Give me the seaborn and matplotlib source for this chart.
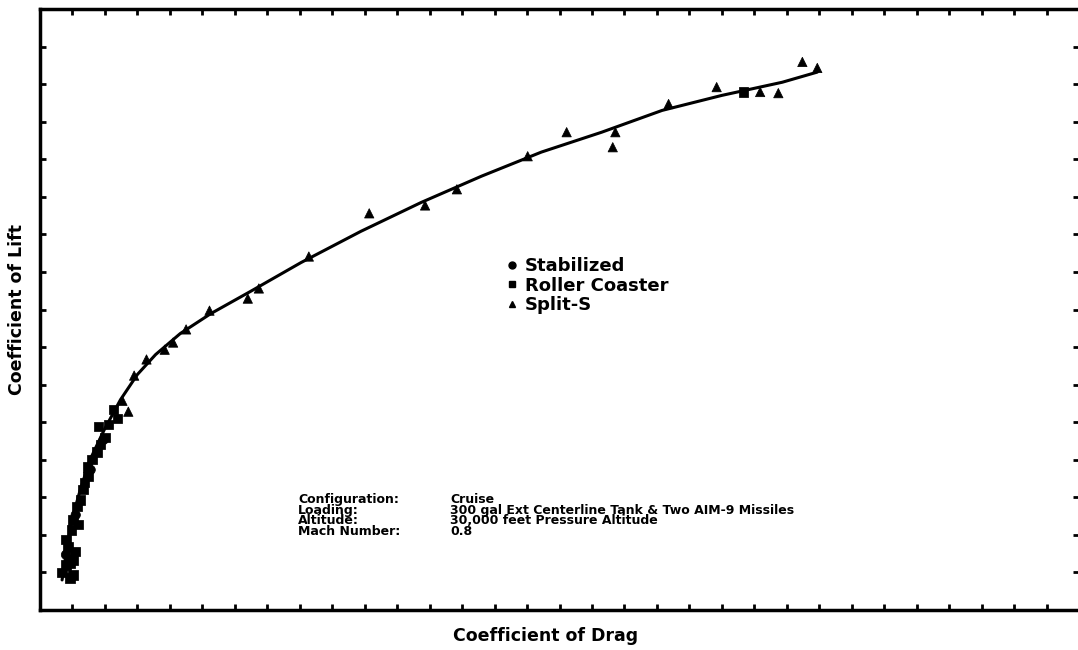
import matplotlib
matplotlib.use("Agg")
import matplotlib.pyplot as plt
from matplotlib.lines import Line2D
import seaborn as sns
import pandas as pd
import numpy as np

sns.set_style("white")
plt.rcParams['font.family'] = ['DejaVu Sans']
plt.rcParams['text.color'] = 'black'
plt.rcParams['axes.labelcolor'] = 'black'

# ---- data (arbitrary units) ----
split_cd = [0.1174, 0.1197, 0.1042, 0.0968, 0.1109, 0.1137, 0.0811, 0.0886, 0.0882,
            0.0751, 0.0642, 0.0593, 0.0507, 0.0414, 0.0337, 0.0320, 0.0261, 0.0225,
            0.0205, 0.0192, 0.0164, 0.0145, 0.0127, 0.0136]
split_cl = [1.459, 1.443, 1.392, 1.347, 1.379, 1.376, 1.272, 1.272, 1.232,
            1.208, 1.120, 1.077, 1.056, 0.941, 0.856, 0.829, 0.797, 0.747,
            0.712, 0.693, 0.667, 0.624, 0.557, 0.528]

roller_cd = [0.1083, 0.0113, 0.0119, 0.0090, 0.0100, 0.0088, 0.0073, 0.0074, 0.0066,
             0.0057, 0.0051, 0.0059, 0.0043, 0.0054, 0.0046, 0.0034, 0.0051, 0.0051,
             0.0040, 0.0048, 0.0062, 0.0069, 0.0080, 0.0093, 0.0105, 0.0040, 0.0046]
roller_cl = [1.379, 0.533, 0.509, 0.488, 0.459, 0.421, 0.381, 0.355, 0.320,
             0.275, 0.240, 0.227, 0.168, 0.155, 0.125, 0.099, 0.093, 0.133,
             0.187, 0.213, 0.293, 0.339, 0.400, 0.440, 0.493, 0.120, 0.085]

stab_cd = [0.0040, 0.0055, 0.0078, 0.0098]
stab_cl = [0.147, 0.253, 0.373, 0.453]

fit_cd = [0.0034, 0.0040, 0.0049, 0.0062, 0.0077, 0.0099, 0.0124, 0.0150, 0.0178,
          0.0216, 0.0263, 0.0324, 0.0402, 0.0494, 0.0587, 0.0680, 0.0772, 0.0865,
          0.0958, 0.1050, 0.1143, 0.1197]
fit_cl = [0.080, 0.147, 0.240, 0.320, 0.400, 0.480, 0.560, 0.627, 0.680,
          0.736, 0.789, 0.848, 0.925, 1.008, 1.085, 1.155, 1.219, 1.272,
          1.330, 1.370, 1.405, 1.432]

series_names = ["Stabilized", "Roller Coaster", "Split-S"]
info_keys = ["Configuration:", "Loading:", "Altitude:", "Mach Number:"]
info_vals = ["Cruise", "300 gal Ext Centerline Tank & Two AIM-9 Missiles",
             "30,000 feet Pressure Altitude", "0.8"]

df = pd.DataFrame({
    "cd": stab_cd + roller_cd + split_cd,
    "cl": stab_cl + roller_cl + split_cl,
    "maneuver": [series_names[0]] * len(stab_cd) + [series_names[1]] * len(roller_cd)
                + [series_names[2]] * len(split_cd),
})
fit = pd.DataFrame({"cd": fit_cd, "cl": fit_cl})

W, H = 1078, 650
fig = plt.figure(figsize=(W / 100, H / 100), dpi=100)
ax = fig.add_axes([40 / W, 40 / H, 1039 / W, 601 / H])

markers = {series_names[0]: "o", series_names[1]: "s", series_names[2]: "^"}
sns.lineplot(data=fit, x="cd", y="cl", ax=ax, color="black", lw=2.2, sort=False,
             estimator=None)
sns.scatterplot(data=df, x="cd", y="cl", style="maneuver", markers=markers,
                color="black", edgecolor="black", s=45, ax=ax, legend=False, zorder=3)

ax.set_xlim(0, 0.16)
ax.set_ylim(0, 1.6)
ax.set_xticks(np.arange(0, 0.1601, 0.005))
ax.set_yticks(np.arange(0, 1.601, 0.1))
ax.set_xticklabels([])
ax.set_yticklabels([])
ax.tick_params(direction="in", length=4, width=2, top=True, right=True,
               bottom=True, left=True, color="black")
for sp in ax.spines.values():
    sp.set_linewidth(2.5)
    sp.set_color("black")
ax.spines["right"].set_visible(False)

ax.set_xlabel("Coefficient of Drag", fontsize=12.5, fontweight="bold")
ax.set_ylabel("Coefficient of Lift", fontsize=12.5, fontweight="bold")
ax.xaxis.set_label_coords(0.487, -0.029)
ax.yaxis.set_label_coords(-0.0135, 0.5)

handles = [Line2D([], [], marker=markers[n], color="black", ls="none", markersize=5)
           for n in series_names]
leg = ax.legend(handles, series_names, loc="upper left", bbox_to_anchor=(0.43, 0.614),
                frameon=False, prop={"size": 13, "weight": "bold"},
                handletextpad=0.2, labelspacing=0.08, handlelength=1.0)

ax.text((298 - 40) / 1039, 1 - (493 - 9) / 601, "\n".join(info_keys),
        transform=ax.transAxes, fontsize=9, fontweight="bold", va="top", ha="left",
        linespacing=0.76)
ax.text((450 - 40) / 1039, 1 - (493 - 9) / 601, "\n".join(info_vals),
        transform=ax.transAxes, fontsize=9, fontweight="bold", va="top", ha="left",
        linespacing=0.76)

fig.savefig("out.png", dpi=100)
